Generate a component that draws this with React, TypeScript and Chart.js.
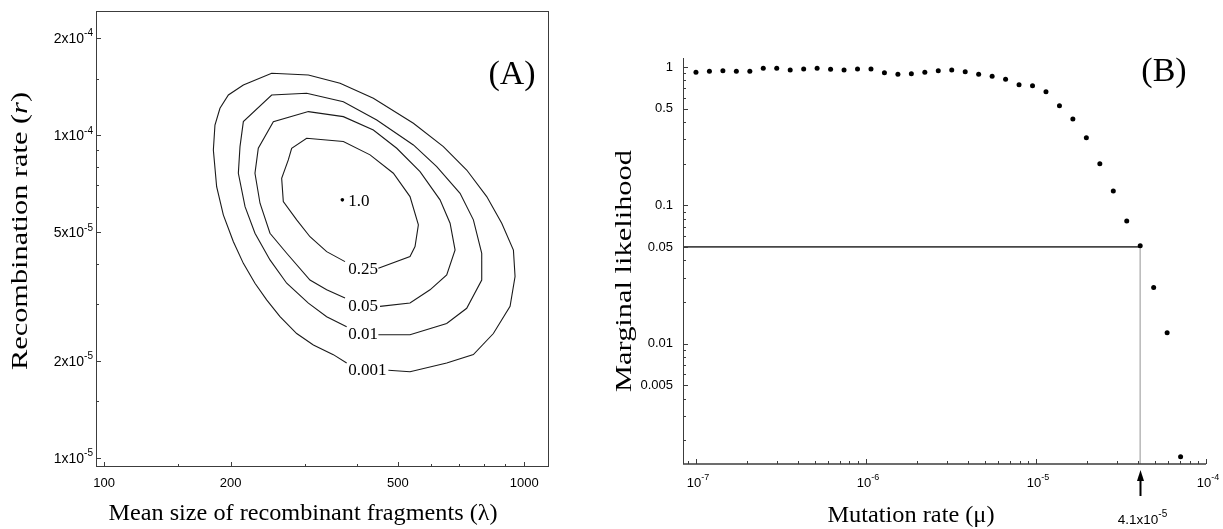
import React, { useEffect, useRef } from "react";
import { Chart, registerables } from "chart.js";

Chart.register(...registerables);

const W = 1223;
const H = 529;

// ---------------- Panel (A): contour plot ----------------
const lambdaTicks = [100, 200, 500, 1000];
const lambdaTickLabels = ["100", "200", "500", "1000"];
const lambdaMinorTicks = [150, 300, 400, 600, 700, 800, 900];
const rTicks = [2e-4, 1e-4, 5e-5, 2e-5, 1e-5];
const rTickMantissa = ["2", "1", "5", "2", "1"];
const rTickExponent = ["-4", "-4", "-5", "-5", "-5"];
const rMinorTicks = [1.5e-4, 9e-5, 8e-5, 7e-5, 6e-5, 4e-5, 3e-5, 1.5e-5];

// contour levels (relative likelihood) and their outlines; r values in units of 1e-5
const contourLevels = ["0.25", "0.05", "0.01", "0.001"];
const lambda025 = [449.4, 534.5, 549.4, 559.6, 534.5, 487.9, 429.4, 370.9, 303.3, 279.4, 274.3, 264.5, 266.9, 287.2, 308.9, 338.5, 374.3];
const r025 = [3.87, 4.21, 4.52, 5.28, 6.46, 7.63, 8.7, 9.57, 9.8, 9.12, 8.39, 7.36, 6.23, 5.47, 4.85, 4.36, 4.06];
const lambda005 = [453.5, 534.5, 596.5, 653.6, 684.3, 665.8, 630.1, 564.7, 497.0, 437.2, 370.9, 306.2, 252.7, 232.7, 228.5, 234.9, 248.1, 271.9, 308.9, 338.5, 374.3];
const r005 = [2.95, 3.02, 3.32, 3.69, 4.41, 5.34, 6.31, 7.72, 9.12, 10.39, 11.43, 11.85, 11.03, 9.12, 7.63, 6.16, 4.97, 4.31, 3.56, 3.32, 3.13];
const lambda001 = [449.4, 534.5, 653.6, 729.3, 791.9, 791.9, 756.5, 703.2, 618.8, 544.5, 445.4, 370.9, 303.3, 250.4, 214.4, 210.5, 208.6, 216.4, 228.5, 248.1, 271.9, 306.2, 338.5, 377.7];
const r001 = [2.41, 2.41, 2.61, 2.91, 3.56, 4.31, 5.47, 6.61, 8.0, 9.34, 11.16, 12.72, 13.51, 13.34, 11.03, 9.23, 7.63, 6.01, 4.97, 4.11, 3.48, 3.02, 2.74, 2.55];
const lambda0001 = [474.7, 534.5, 653.6, 756.5, 844.1, 925.0, 950.6, 942.1, 883.7, 813.9, 729.3, 641.8, 544.5, 437.2, 364.3, 306.2, 250.4, 214.4, 197.5, 188.6, 183.5, 181.9, 185.2, 192.1, 203.0, 214.4, 228.5, 243.6, 262.1, 287.2, 314.7, 351.1, 377.7];
const r0001 = [1.87, 1.85, 1.97, 2.09, 2.43, 2.95, 3.65, 4.41, 5.34, 6.46, 7.81, 9.23, 10.9, 13.03, 14.5, 15.39, 15.58, 14.33, 13.34, 12.13, 10.77, 9.01, 6.93, 5.67, 4.68, 4.01, 3.48, 3.09, 2.74, 2.43, 2.24, 2.09, 1.97];
const contourLambdas = [lambda025, lambda005, lambda001, lambda0001];
const contourRs = [r025, r005, r001, r0001];
const R_UNIT = 1e-5;

// maximum likelihood point
const peakLambda = 368.9;
const peakR = 6.31; // x 1e-5
const peakLabel = "1.0";

// label anchors (left edge of text, vertical middle)
const labelLambda = 381.2;
const labelR = [3.85, 2.95, 2.41, 1.87]; // x 1e-5, for contourLevels
const peakLabelR = 6.23;

// ---------------- Panel (B): marginal likelihood ----------------
const mutationRate = [
  1.0e-7, 1.2e-7, 1.44e-7, 1.728e-7, 2.074e-7, 2.488e-7, 2.986e-7, 3.583e-7, 4.3e-7, 5.16e-7,
  6.192e-7, 7.43e-7, 8.916e-7, 1.07e-6, 1.284e-6, 1.541e-6, 1.849e-6, 2.219e-6, 2.662e-6, 3.195e-6,
  3.834e-6, 4.6e-6, 5.521e-6, 6.625e-6, 7.95e-6, 9.54e-6, 1.145e-5, 1.374e-5, 1.648e-5, 1.978e-5,
  2.374e-5, 2.849e-5, 3.418e-5, 4.102e-5, 4.922e-5, 5.907e-5, 7.088e-5,
];
const marginalLikelihood = [
  0.915, 0.931, 0.94, 0.931, 0.931, 0.979, 0.979, 0.951, 0.967, 0.979,
  0.962, 0.951, 0.967, 0.967, 0.909, 0.885, 0.895, 0.915, 0.938, 0.951,
  0.925, 0.885, 0.857, 0.815, 0.745, 0.732, 0.663, 0.525, 0.421, 0.308,
  0.2, 0.127, 0.077, 0.051, 0.0255, 0.012, 0.00152,
];
const muTicks = [1e-7, 1e-6, 1e-5, 1e-4];
const muTickExponent = ["-7", "-6", "-5", "-4"];
const likTicks = [1, 0.5, 0.1, 0.05, 0.01, 0.005];
const likTickLabels = ["1", "0.5", "0.1", "0.05", "0.01", "0.005"];
const threshold = 0.05;
const cutoffMu = 4.1e-5;
const cutoffMantissa = "4.1x10";
const cutoffExponent = "-5";

// axis ranges
const A_X = { min: 95.6, max: 1145 };
const A_Y = { min: 9.37e-6, max: 2.43e-4 };
const B_X = { min: 8.39e-8, max: 1e-4 };
const B_Y = { min: 1.347e-3, max: 1.162 };

const SANS = '"Liberation Sans", Arial, Helvetica, sans-serif';
const SERIF = '"Liberation Serif", "Times New Roman", serif';

type Run = { t: string; italic?: boolean };

function drawRuns(
  ctx: CanvasRenderingContext2D,
  runs: Run[],
  cx: number,
  cy: number,
  size: number,
  targetW: number,
  rot: number
) {
  ctx.save();
  ctx.translate(cx, cy);
  if (rot) ctx.rotate(rot);
  let total = 0;
  const widths = runs.map((r) => {
    ctx.font = `${r.italic ? "italic " : ""}${size}px ${SERIF}`;
    const w = ctx.measureText(r.t).width;
    total += w;
    return w;
  });
  const sx = targetW > 0 ? targetW / total : 1;
  ctx.scale(sx, 1);
  ctx.textAlign = "left";
  ctx.textBaseline = "middle";
  ctx.fillStyle = "#000";
  let x = -total / 2;
  runs.forEach((r, i) => {
    ctx.font = `${r.italic ? "italic " : ""}${size}px ${SERIF}`;
    ctx.fillText(r.t, x, 0);
    x += widths[i];
  });
  ctx.restore();
}

function supLabel(
  ctx: CanvasRenderingContext2D,
  base: string,
  exp: string,
  x: number,
  y: number,
  align: "left" | "right" | "center",
  size = 13
) {
  const baseFont = `${size}px ${SANS}`;
  const expFont = `${Math.round(size * 0.72)}px ${SANS}`;
  ctx.font = baseFont;
  const bw = ctx.measureText(base).width;
  ctx.font = expFont;
  const ew = ctx.measureText(exp).width;
  const total = bw + ew;
  const x0 = align === "left" ? x : align === "right" ? x - total : x - total / 2;
  ctx.textAlign = "left";
  ctx.textBaseline = "middle";
  ctx.fillStyle = "#000";
  ctx.font = baseFont;
  ctx.fillText(base, x0, y);
  ctx.font = expFont;
  ctx.fillText(exp, x0 + bw, y - size * 0.4);
}

function minorDecadeTicks(min: number, max: number) {
  const out: number[] = [];
  for (let e = Math.floor(Math.log10(min)); e <= Math.ceil(Math.log10(max)); e++) {
    for (let m = 2; m <= 9; m++) {
      const v = m * Math.pow(10, e);
      if (v > min && v < max) out.push(v);
    }
  }
  return out;
}

const panelAPlugin = {
  id: "panelA",
  afterDatasetsDraw(chart: any) {
    const { ctx, chartArea: ca } = chart;
    const xs = chart.scales.x;
    const ys = chart.scales.y;
    ctx.save();
    // frame
    ctx.strokeStyle = "#3c3c3c";
    ctx.lineWidth = 1;
    ctx.strokeRect(ca.left + 0.5, ca.top + 0.5, ca.right - ca.left - 1, ca.bottom - ca.top - 1);
    // ticks
    ctx.beginPath();
    rTicks.forEach((v) => {
      const py = Math.round(ys.getPixelForValue(v)) + 0.5;
      ctx.moveTo(ca.left, py);
      ctx.lineTo(ca.left + 5, py);
    });
    rMinorTicks.forEach((v) => {
      const py = Math.round(ys.getPixelForValue(v)) + 0.5;
      ctx.moveTo(ca.left, py);
      ctx.lineTo(ca.left + 3, py);
    });
    lambdaTicks.forEach((v) => {
      const px = Math.round(xs.getPixelForValue(v)) + 0.5;
      ctx.moveTo(px, ca.bottom);
      ctx.lineTo(px, ca.bottom - 5);
    });
    lambdaMinorTicks.forEach((v) => {
      const px = Math.round(xs.getPixelForValue(v)) + 0.5;
      ctx.moveTo(px, ca.bottom);
      ctx.lineTo(px, ca.bottom - 3);
    });
    ctx.stroke();
    // tick labels
    rTicks.forEach((v, i) => {
      supLabel(ctx, rTickMantissa[i] + "x10", rTickExponent[i], ca.left - 3, ys.getPixelForValue(v) + 1, "right", 14);
    });
    ctx.font = `13px ${SANS}`;
    ctx.textAlign = "center";
    ctx.textBaseline = "middle";
    ctx.fillStyle = "#000";
    lambdaTicks.forEach((v, i) => {
      ctx.fillText(lambdaTickLabels[i], xs.getPixelForValue(v), ca.bottom + 16);
    });
    // contour labels
    ctx.font = `17px ${SERIF}`;
    ctx.textAlign = "left";
    ctx.textBaseline = "middle";
    contourLevels.forEach((lab, i) => {
      ctx.fillText(lab, xs.getPixelForValue(labelLambda), ys.getPixelForValue(labelR[i] * R_UNIT));
    });
    ctx.fillText(peakLabel, xs.getPixelForValue(labelLambda), ys.getPixelForValue(peakLabelR * R_UNIT));
    // panel letter
    ctx.font = `34px ${SERIF}`;
    ctx.textAlign = "center";
    ctx.fillText("(A)", 512, 75);
    ctx.restore();
    // axis titles
    drawRuns(ctx, [{ t: "Mean size of recombinant fragments (λ)" }], 303, 514, 24, 389, 0);
    drawRuns(
      ctx,
      [{ t: "Recombination rate (" }, { t: "r", italic: true }, { t: ")" }],
      21,
      231,
      24,
      278,
      -Math.PI / 2
    );
  },
};

const panelBPlugin = {
  id: "panelB",
  afterDatasetsDraw(chart: any) {
    const { ctx, chartArea: ca } = chart;
    const xs = chart.scales.x;
    const ys = chart.scales.y;
    ctx.save();
    ctx.strokeStyle = "#3c3c3c";
    ctx.lineWidth = 1;
    // axis lines
    ctx.beginPath();
    ctx.moveTo(ca.left + 0.5, ca.top);
    ctx.lineTo(ca.left + 0.5, ca.bottom);
    ctx.stroke();
    ctx.lineWidth = 1.4;
    ctx.beginPath();
    ctx.moveTo(ca.left, ca.bottom);
    ctx.lineTo(ca.right, ca.bottom);
    ctx.stroke();
    // ticks
    ctx.lineWidth = 1;
    ctx.beginPath();
    likTicks.forEach((v) => {
      const py = Math.round(ys.getPixelForValue(v)) + 0.5;
      ctx.moveTo(ca.left, py);
      ctx.lineTo(ca.left + 5, py);
    });
    minorDecadeTicks(B_Y.min, B_Y.max).forEach((v) => {
      if (likTicks.some((t) => Math.abs(t - v) / t < 1e-6)) return;
      const py = Math.round(ys.getPixelForValue(v)) + 0.5;
      ctx.moveTo(ca.left, py);
      ctx.lineTo(ca.left + 3, py);
    });
    muTicks.forEach((v) => {
      const px = Math.round(xs.getPixelForValue(v)) + 0.5;
      ctx.moveTo(px, ca.bottom);
      ctx.lineTo(px, ca.bottom - 5);
    });
    minorDecadeTicks(B_X.min, B_X.max).forEach((v) => {
      const px = Math.round(xs.getPixelForValue(v)) + 0.5;
      ctx.moveTo(px, ca.bottom);
      ctx.lineTo(px, ca.bottom - 3);
    });
    ctx.stroke();
    // tick labels
    ctx.font = `13px ${SANS}`;
    ctx.textAlign = "right";
    ctx.textBaseline = "middle";
    ctx.fillStyle = "#000";
    likTicks.forEach((v, i) => {
      ctx.fillText(likTickLabels[i], ca.left - 10, ys.getPixelForValue(v));
    });
    muTicks.forEach((v, i) => {
      supLabel(ctx, "10", muTickExponent[i], xs.getPixelForValue(v) + 2, ca.bottom + 19, "center");
    });
    // arrow marking the cut-off
    const ax = Math.round(xs.getPixelForValue(cutoffMu)) + 0.5;
    ctx.strokeStyle = "#000";
    ctx.fillStyle = "#000";
    ctx.lineWidth = 2;
    ctx.beginPath();
    ctx.moveTo(ax, ca.bottom + 32);
    ctx.lineTo(ax, ca.bottom + 14);
    ctx.stroke();
    ctx.beginPath();
    ctx.moveTo(ax, ca.bottom + 6);
    ctx.lineTo(ax - 3.5, ca.bottom + 17);
    ctx.lineTo(ax + 3.5, ca.bottom + 17);
    ctx.closePath();
    ctx.fill();
    supLabel(ctx, cutoffMantissa, cutoffExponent, ax + 2, ca.bottom + 56, "center", 13.5);
    // panel letter
    ctx.font = `34px ${SERIF}`;
    ctx.textAlign = "center";
    ctx.textBaseline = "middle";
    ctx.fillText("(B)", 1164, 72);
    ctx.restore();
    drawRuns(ctx, [{ t: "Mutation rate (μ)" }], 911, 516, 24, 167, 0);
    drawRuns(ctx, [{ t: "Marginal likelihood" }], 625, 271, 24, 242, -Math.PI / 2);
  },
};

export default function App() {
  const refA = useRef<HTMLCanvasElement>(null);
  const refB = useRef<HTMLCanvasElement>(null);

  useEffect(() => {
    const contourSets = contourLambdas.map((lams, i) => ({
      label: contourLevels[i],
      data: lams.map((x, j) => ({ x, y: contourRs[i][j] * R_UNIT })),
      showLine: true,
      borderColor: "#1a1a1a",
      borderWidth: 1.1,
      pointRadius: 0,
      fill: false,
      tension: 0,
    }));
    const chartA = new Chart(refA.current as HTMLCanvasElement, {
      type: "scatter",
      data: {
        datasets: [
          {
            label: "peak",
            data: [{ x: peakLambda, y: peakR * R_UNIT }],
            pointRadius: 1.8,
            backgroundColor: "#000",
            borderWidth: 0,
          } as any,
          ...contourSets,
        ],
      },
      options: {
        responsive: false,
        animation: false,
        devicePixelRatio: 1,
        events: [],
        layout: { padding: { left: 96, top: 11, right: W - 549, bottom: H - 467 } },
        plugins: { legend: { display: false }, tooltip: { enabled: false }, title: { display: false } },
        scales: {
          x: { type: "logarithmic", min: A_X.min, max: A_X.max, display: false, bounds: "data" } as any,
          y: { type: "logarithmic", min: A_Y.min, max: A_Y.max, display: false, bounds: "data" } as any,
        },
      },
      plugins: [panelAPlugin],
    });

    const chartB = new Chart(refB.current as HTMLCanvasElement, {
      type: "scatter",
      data: {
        datasets: [
          {
            label: "marginal likelihood",
            data: mutationRate.map((x, i) => ({ x, y: marginalLikelihood[i] })),
            pointRadius: 2.5,
            backgroundColor: "#000",
            borderWidth: 0,
          } as any,
          {
            label: "threshold",
            data: [
              { x: B_X.min, y: threshold },
              { x: cutoffMu, y: threshold },
            ],
            showLine: true,
            borderColor: "#474747",
            borderWidth: 1.8,
            pointRadius: 0,
          },
          {
            label: "cutoff",
            data: [
              { x: cutoffMu, y: threshold },
              { x: cutoffMu, y: B_Y.min },
            ],
            showLine: true,
            borderColor: "#b8b8b8",
            borderWidth: 1.5,
            pointRadius: 0,
          },
        ],
      },
      options: {
        responsive: false,
        animation: false,
        devicePixelRatio: 1,
        events: [],
        layout: { padding: { left: 683, top: 58, right: W - 1206, bottom: H - 464 } },
        plugins: { legend: { display: false }, tooltip: { enabled: false }, title: { display: false } },
        scales: {
          x: { type: "logarithmic", min: B_X.min, max: B_X.max, display: false, bounds: "data" } as any,
          y: { type: "logarithmic", min: B_Y.min, max: B_Y.max, display: false, bounds: "data" } as any,
        },
      },
      plugins: [panelBPlugin],
    });

    return () => {
      chartA.destroy();
      chartB.destroy();
    };
  }, []);

  const canvasStyle: React.CSSProperties = { position: "absolute", left: 0, top: 0, width: W, height: H };
  return (
    <div style={{ position: "absolute", left: 0, top: 0, width: W, height: H, background: "#fff" }}>
      <canvas ref={refA} width={W} height={H} style={canvasStyle} />
      <canvas ref={refB} width={W} height={H} style={canvasStyle} />
    </div>
  );
}
